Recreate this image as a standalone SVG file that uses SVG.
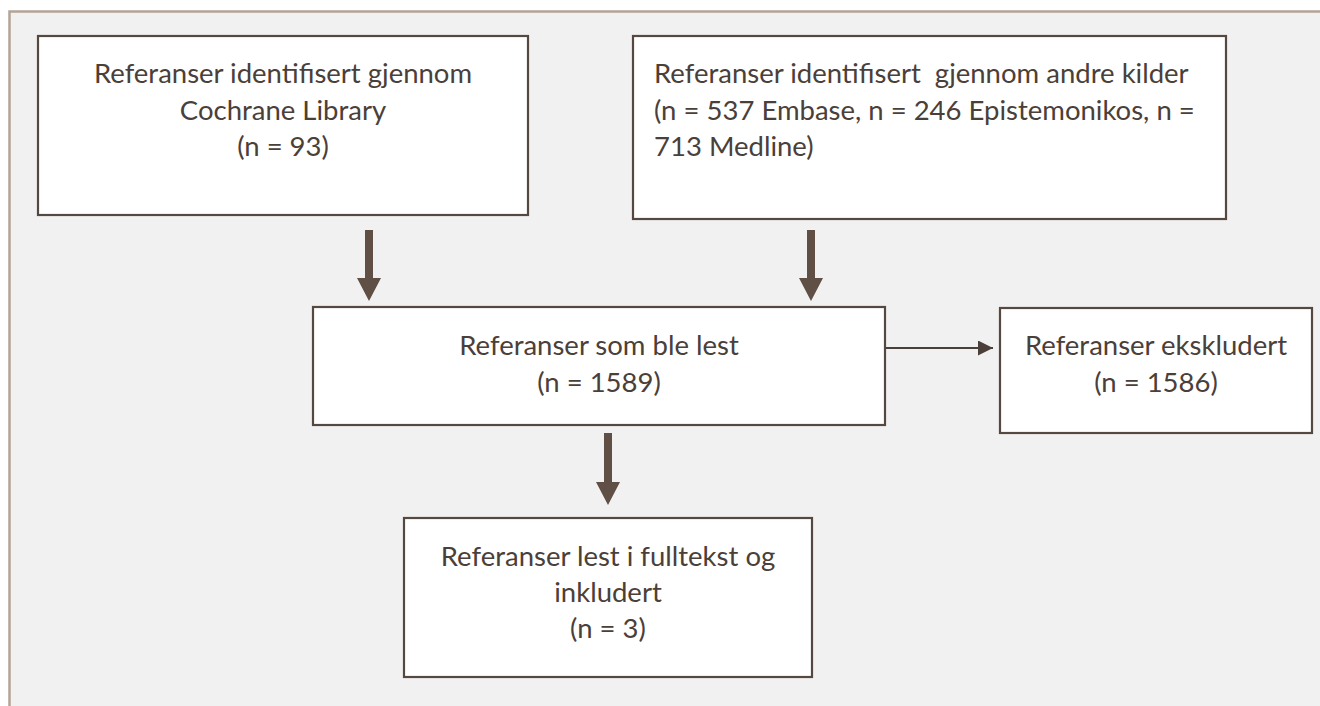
<svg xmlns="http://www.w3.org/2000/svg" width="1320" height="706" viewBox="0 0 1320 706">
<style>
.box{fill:#ffffff;stroke:#544841;stroke-width:2.2}
.t{font-family:Lato,"Open Sans","Noto Sans",sans-serif;font-size:27.5px;fill:#4b4039}
.c{text-anchor:middle}
.block{fill:#5f4f44}
.thin{stroke:#4b4039;stroke-width:2;fill:none}
</style>
<defs>
<marker id="ah" markerWidth="16" markerHeight="16" refX="15" refY="7.5" orient="auto" markerUnits="userSpaceOnUse">
<path d="M0,0 L15,7.5 L0,15 Z" fill="#4b4039"/>
</marker>
</defs>
<rect x="0" y="0" width="1320" height="706" fill="#ffffff"/>
<rect x="9.5" y="11.5" width="1320" height="706" fill="#f1f1f1" stroke="#b4a496" stroke-width="2.5"/>
<g id="connectors">
<path class="block" d="M365,230 H373 V278 H381 L369,301 L357,278 H365 Z"/>
<path class="block" d="M807,230 H815 V278 H823 L811,301 L799,278 H807 Z"/>
<path class="block" d="M604,433 H612 V482 H620 L608,505 L596,482 H604 Z"/>
<line class="thin" x1="885" y1="348" x2="993" y2="348" marker-end="url(#ah)"/>
</g>
<g id="node-cochrane">
<rect class="box" x="38" y="36" width="490" height="179"/>
<text class="t c" x="283" y="83">Referanser identifisert gjennom</text>
<text class="t c" x="283" y="120">Cochrane Library</text>
<text class="t c" x="283" y="156">(n = 93)</text>
</g>
<g id="node-andre">
<rect class="box" x="633" y="36" width="593" height="183"/>
<text class="t" x="654" y="83" xml:space="preserve">Referanser identifisert  gjennom andre kilder</text>
<text class="t" x="654" y="120">(n = 537 Embase, n = 246 Epistemonikos, n =</text>
<text class="t" x="654" y="156">713 Medline)</text>
</g>
<g id="node-lest">
<rect class="box" x="313" y="307" width="572" height="118"/>
<text class="t c" x="599" y="355">Referanser som ble lest</text>
<text class="t c" x="599" y="392">(n = 1589)</text>
</g>
<g id="node-ekskludert">
<rect class="box" x="1000" y="308" width="312" height="125"/>
<text class="t c" x="1156" y="355">Referanser ekskludert</text>
<text class="t c" x="1156" y="392">(n = 1586)</text>
</g>
<g id="node-inkludert">
<rect class="box" x="404" y="518" width="408" height="159"/>
<text class="t c" x="608" y="566">Referanser lest i fulltekst og</text>
<text class="t c" x="608" y="602">inkludert</text>
<text class="t c" x="608" y="638">(n = 3)</text>
</g>
</svg>
